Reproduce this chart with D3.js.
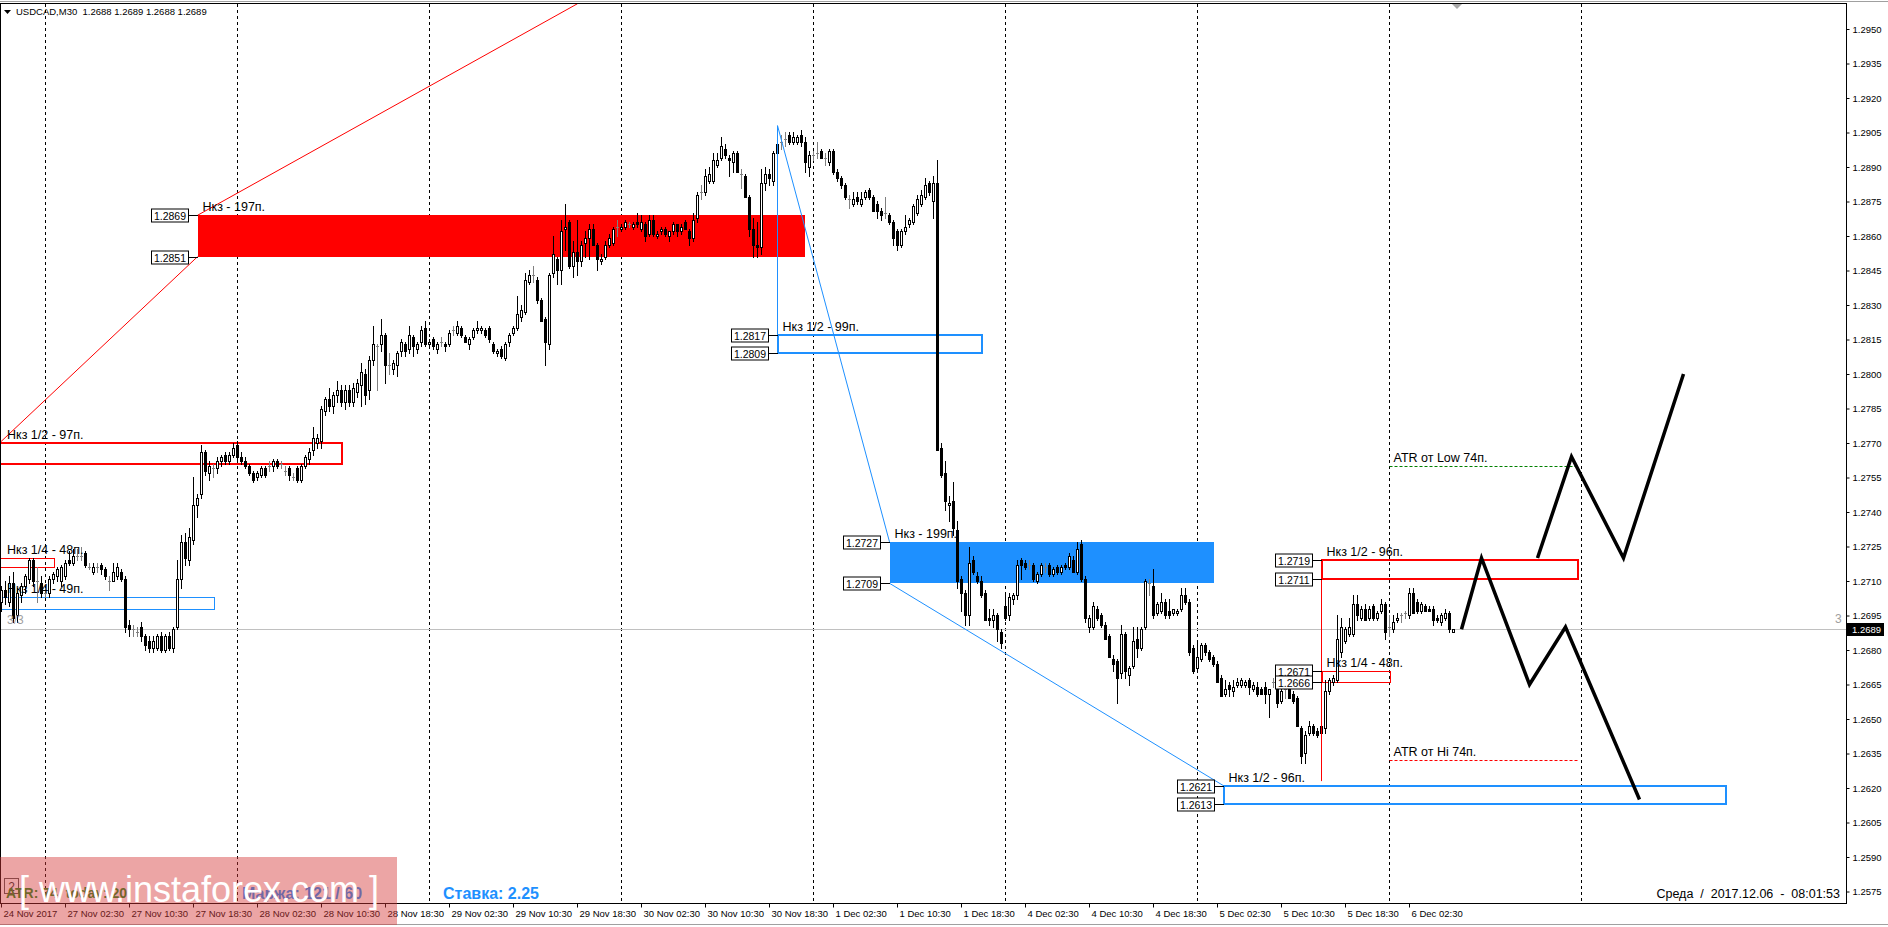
<!DOCTYPE html>
<html><head><meta charset="utf-8">
<script src="https://cdn.jsdelivr.net/npm/d3@7"></script>
<style>
body{margin:0;background:#fff;overflow:hidden}
svg{display:block}
text{font-family:"Liberation Sans",Arial,sans-serif}
</style>
</head><body>
<svg id="c" width="1888" height="927"></svg>
<script>
// ---------- DATA (USDCAD M30, [open, high, low, close]) ----------
const firstBarIndex = -11; // 24 Nov 18:30 ; bar 0 = 27 Nov 00:00
const nov24 = [[1.2701,1.2708,1.2697,1.2706],[1.2706,1.2710,1.2700,1.2703],[1.2701,1.2712,1.2699,1.2709],[1.2709,1.2714,1.2692,1.2694],[1.2695,1.2707,1.2692,1.2705],[1.2704,1.2709,1.2701,1.2708],[1.2708,1.2713,1.2705,1.2712],[1.2711,1.2720,1.2709,1.2719],[1.2719,1.2720,1.2708,1.2710],[1.2710,1.2716,1.2701,1.2710],[1.2709,1.2712,1.2703,1.2705]];
const nov27 = [[1.2705,1.2707,1.2703,1.2705],[1.2705,1.2712,1.2703,1.2711],[1.2711,1.2714,1.2709,1.2713],[1.2712,1.2716,1.2710,1.2715],[1.2710,1.2717,1.2708,1.2716],[1.2712,1.2719,1.2711,1.2718],[1.2719,1.2723,1.2717,1.2718],[1.2718,1.2724,1.2717,1.2721],[1.2721,1.2724,1.2719,1.2721],[1.2721,1.2725,1.2719,1.2721],[1.2722,1.2723,1.2716,1.2717],[1.2716,1.2718,1.2715,1.2716],[1.2714,1.2718,1.2713,1.2716],[1.2716,1.2718,1.2714,1.2716],[1.2717,1.2718,1.2713,1.2715],[1.2715,1.2716,1.2711,1.2712],[1.2710,1.2712,1.2706,1.2710],[1.2710,1.2718,1.2710,1.2714],[1.2712,1.2718,1.2711,1.2716],[1.2714,1.2715,1.2710,1.2711],[1.2711,1.2712,1.2688,1.2690],[1.2691,1.2693,1.2686,1.2689],[1.2689,1.2691,1.2686,1.2689],[1.2688,1.2690,1.2686,1.2688],[1.2690,1.2692,1.2684,1.2686],[1.2686,1.2687,1.2680,1.2682],[1.2684,1.2686,1.2679,1.2681],[1.2681,1.2686,1.2679,1.2684],[1.2681,1.2687,1.2680,1.2686],[1.2686,1.2688,1.2679,1.2680],[1.2680,1.2687,1.2679,1.2686],[1.2686,1.2688,1.2680,1.2681],[1.2681,1.2690,1.2679,1.2689],[1.2690,1.2719,1.2689,1.2711],[1.2711,1.2730,1.2707,1.2727],[1.2727,1.2731,1.2717,1.2720],[1.2719,1.2733,1.2717,1.2729],[1.2728,1.2755,1.2726,1.2743],[1.2743,1.2748,1.2738,1.2746],[1.2748,1.2769,1.2746,1.2766],[1.2766,1.2767,1.2756,1.2758],[1.2757,1.2762,1.2754,1.2760],[1.2759,1.2761,1.2755,1.2759],[1.2759,1.2764,1.2757,1.2762],[1.2762,1.2765,1.2760,1.2764],[1.2765,1.2766,1.2761,1.2762],[1.2762,1.2766,1.2761,1.2765],[1.2765,1.2770,1.2764,1.2768]];
const nov28 = [[1.2769,1.2771,1.2763,1.2764],[1.2764,1.2766,1.2761,1.2762],[1.2762,1.2764,1.2759,1.2760],[1.2760,1.2761,1.2756,1.2757],[1.2757,1.2758,1.2753,1.2754],[1.2755,1.2758,1.2754,1.2757],[1.2756,1.2760,1.2755,1.2759],[1.2759,1.2760,1.2755,1.2756],[1.2760,1.2762,1.2758,1.2760],[1.2760,1.2763,1.2758,1.2762],[1.2762,1.2763,1.2759,1.2760],[1.2761,1.2762,1.2759,1.2761],[1.2758,1.2760,1.2756,1.2758],[1.2759,1.2760,1.2754,1.2756],[1.2755,1.2757,1.2754,1.2755],[1.2759,1.2760,1.2753,1.2754],[1.2754,1.2761,1.2753,1.2760],[1.2760,1.2765,1.2759,1.2764],[1.2763,1.2768,1.2761,1.2766],[1.2767,1.2777,1.2765,1.2772],[1.2770,1.2774,1.2768,1.2772],[1.2771,1.2786,1.2768,1.2785],[1.2784,1.2790,1.2782,1.2789],[1.2789,1.2794,1.2784,1.2786],[1.2786,1.2792,1.2783,1.2791],[1.2791,1.2797,1.2788,1.2793],[1.2793,1.2795,1.2786,1.2788],[1.2788,1.2795,1.2785,1.2793],[1.2793,1.2795,1.2786,1.2788],[1.2788,1.2796,1.2786,1.2794],[1.2792,1.2798,1.2790,1.2796],[1.2795,1.2805,1.2786,1.2801],[1.2800,1.2802,1.2787,1.2791],[1.2793,1.2808,1.2789,1.2806],[1.2806,1.2821,1.2804,1.2813],[1.2812,1.2813,1.2793,1.2812],[1.2813,1.2824,1.2810,1.2817],[1.2817,1.2818,1.2796,1.2804],[1.2804,1.2809,1.2800,1.2804],[1.2802,1.2806,1.2800,1.2805],[1.2804,1.2810,1.2799,1.2809],[1.2810,1.2815,1.2808,1.2814],[1.2813,1.2814,1.2808,1.2810],[1.2811,1.2821,1.2809,1.2817],[1.2816,1.2817,1.2808,1.2812],[1.2811,1.2814,1.2809,1.2813],[1.2814,1.2821,1.2812,1.2819],[1.2820,1.2823,1.2812,1.2813]];
const nov29 = [[1.2813,1.2815,1.2812,1.2814],[1.2815,1.2816,1.2811,1.2812],[1.2811,1.2814,1.2809,1.2813],[1.2814,1.2816,1.2812,1.2814],[1.2813,1.2814,1.2810,1.2812],[1.2813,1.2819,1.2812,1.2818],[1.2819,1.2821,1.2817,1.2819],[1.2818,1.2823,1.2817,1.2821],[1.2820,1.2821,1.2816,1.2817],[1.2816,1.2817,1.2814,1.2814],[1.2813,1.2816,1.2811,1.2815],[1.2816,1.2820,1.2815,1.2819],[1.2819,1.2823,1.2818,1.2820],[1.2819,1.2821,1.2818,1.2820],[1.2819,1.2820,1.2816,1.2817],[1.2820,1.2821,1.2814,1.2815],[1.2813,1.2814,1.2809,1.2810],[1.2809,1.2811,1.2808,1.2810],[1.2811,1.2812,1.2807,1.2808],[1.2807,1.2814,1.2806,1.2813],[1.2814,1.2818,1.2812,1.2817],[1.2818,1.2821,1.2817,1.2820],[1.2820,1.2834,1.2819,1.2826],[1.2825,1.2830,1.2823,1.2828],[1.2827,1.2844,1.2826,1.2841],[1.2840,1.2845,1.2839,1.2843],[1.2843,1.2847,1.2840,1.2843],[1.2841,1.2842,1.2831,1.2832],[1.2832,1.2833,1.2823,1.2823],[1.2824,1.2825,1.2804,1.2814],[1.2813,1.2844,1.2811,1.2843],[1.2844,1.2860,1.2842,1.2852],[1.2850,1.2851,1.2839,1.2845],[1.2845,1.2867,1.2839,1.2862],[1.2863,1.2874,1.2854,1.2864],[1.2866,1.2867,1.2846,1.2847],[1.2847,1.2858,1.2842,1.2853],[1.2853,1.2867,1.2843,1.2849],[1.2849,1.2858,1.2847,1.2856],[1.2857,1.2862,1.2851,1.2859],[1.2859,1.2865,1.2850,1.2863],[1.2863,1.2865,1.2856,1.2856],[1.2856,1.2857,1.2845,1.2850],[1.2849,1.2852,1.2848,1.2850],[1.2851,1.2858,1.2850,1.2856],[1.2856,1.2861,1.2855,1.2859],[1.2857,1.2864,1.2856,1.2863],[1.2864,1.2867,1.2860,1.2864]];
const nov30 = [[1.2863,1.2865,1.2862,1.2864],[1.2864,1.2867,1.2863,1.2866],[1.2865,1.2866,1.2864,1.2865],[1.2864,1.2866,1.2863,1.2865],[1.2866,1.2870,1.2864,1.2865],[1.2863,1.2869,1.2862,1.2866],[1.2865,1.2866,1.2858,1.2860],[1.2861,1.2869,1.2860,1.2867],[1.2867,1.2869,1.2860,1.2861],[1.2860,1.2862,1.2859,1.2861],[1.2862,1.2864,1.2861,1.2863],[1.2863,1.2864,1.2860,1.2861],[1.2860,1.2862,1.2858,1.2862],[1.2862,1.2866,1.2861,1.2865],[1.2865,1.2865,1.2860,1.2862],[1.2862,1.2865,1.2861,1.2864],[1.2866,1.2867,1.2863,1.2863],[1.2862,1.2863,1.2856,1.2859],[1.2859,1.2870,1.2858,1.2867],[1.2868,1.2879,1.2866,1.2878],[1.2879,1.2882,1.2876,1.2879],[1.2879,1.2889,1.2878,1.2886],[1.2884,1.2890,1.2883,1.2887],[1.2884,1.2896,1.2883,1.2893],[1.2891,1.2896,1.2890,1.2893],[1.2894,1.2903,1.2893,1.2899],[1.2898,1.2900,1.2894,1.2895],[1.2894,1.2895,1.2886,1.2893],[1.2892,1.2897,1.2888,1.2896],[1.2896,1.2897,1.2888,1.2888],[1.2887,1.2889,1.2881,1.2887],[1.2886,1.2887,1.2877,1.2877],[1.2877,1.2878,1.2860,1.2863],[1.2863,1.2868,1.2851,1.2856],[1.2856,1.2866,1.2851,1.2855],[1.2855,1.2889,1.2852,1.2883],[1.2883,1.2890,1.2880,1.2887],[1.2887,1.2889,1.2882,1.2885],[1.2884,1.2897,1.2882,1.2896],[1.2896,1.2908,1.2894,1.2900],[1.2901,1.2904,1.2898,1.2901],[1.2902,1.2905,1.2899,1.2902],[1.2904,1.2905,1.2900,1.2901],[1.2901,1.2905,1.2900,1.2903],[1.2901,1.2904,1.2900,1.2903],[1.2904,1.2906,1.2899,1.2901],[1.2901,1.2903,1.2888,1.2892],[1.2890,1.2897,1.2886,1.2895]];
const dec1 = [[1.2895,1.2897,1.2893,1.2895],[1.2896,1.2901,1.2894,1.2896],[1.2897,1.2898,1.2894,1.2894],[1.2894,1.2896,1.2891,1.2894],[1.2892,1.2898,1.2891,1.2897],[1.2897,1.2898,1.2887,1.2888],[1.2888,1.2889,1.2884,1.2885],[1.2885,1.2886,1.2881,1.2882],[1.2882,1.2883,1.2876,1.2877],[1.2876,1.2878,1.2872,1.2876],[1.2874,1.2879,1.2873,1.2876],[1.2877,1.2879,1.2874,1.2875],[1.2874,1.2879,1.2873,1.2876],[1.2877,1.2880,1.2876,1.2879],[1.2880,1.2881,1.2876,1.2877],[1.2877,1.2878,1.2871,1.2871],[1.2874,1.2875,1.2868,1.2871],[1.2871,1.2872,1.2867,1.2869],[1.2870,1.2877,1.2868,1.2870],[1.2869,1.2870,1.2865,1.2866],[1.2866,1.2867,1.2856,1.2859],[1.2862,1.2863,1.2854,1.2856],[1.2856,1.2863,1.2855,1.2862],[1.2862,1.2869,1.2861,1.2864],[1.2865,1.2868,1.2864,1.2867],[1.2866,1.2874,1.2865,1.2873],[1.2870,1.2878,1.2869,1.2876],[1.2874,1.2880,1.2873,1.2878],[1.2877,1.2885,1.2876,1.2882],[1.2883,1.2884,1.2878,1.2879],[1.2875,1.2886,1.2868,1.2883],[1.2883,1.2893,1.2767,1.2767],[1.2768,1.2770,1.2755,1.2756],[1.2757,1.2762,1.2741,1.2745],[1.2743,1.2747,1.2736,1.2744],[1.2745,1.2753,1.2730,1.2733],[1.2732,1.2736,1.2707,1.2710],[1.2711,1.2712,1.2697,1.2705],[1.2705,1.2706,1.2691,1.2695],[1.2695,1.2725,1.2691,1.2718],[1.2719,1.2721,1.2713,1.2714],[1.2712,1.2714,1.2709,1.2710],[1.2710,1.2712,1.2703,1.2704],[1.2705,1.2706,1.2693,1.2693],[1.2694,1.2698,1.2691,1.2693],[1.2693,1.2698,1.2690,1.2695],[1.2695,1.2696,1.2684,1.2689],[1.2688,1.2689,1.2681,1.2683]];
const dec4 = [[1.2699,1.2704,1.2693,1.2694],[1.2695,1.2705,1.2693,1.2703],[1.2702,1.2705,1.2700,1.2704],[1.2704,1.2719,1.2702,1.2717],[1.2719,1.2720,1.2711,1.2717],[1.2718,1.2719,1.2715,1.2716],[1.2717,1.2719,1.2715,1.2717],[1.2717,1.2718,1.2710,1.2711],[1.2710,1.2714,1.2709,1.2713],[1.2713,1.2718,1.2712,1.2717],[1.2716,1.2718,1.2714,1.2716],[1.2717,1.2718,1.2712,1.2713],[1.2713,1.2716,1.2712,1.2715],[1.2716,1.2717,1.2713,1.2714],[1.2714,1.2717,1.2713,1.2716],[1.2717,1.2718,1.2715,1.2716],[1.2716,1.2722,1.2715,1.2721],[1.2719,1.2721,1.2714,1.2714],[1.2714,1.2727,1.2713,1.2724],[1.2726,1.2728,1.2710,1.2711],[1.2711,1.2712,1.2692,1.2694],[1.2690,1.2695,1.2688,1.2694],[1.2690,1.2701,1.2689,1.2699],[1.2698,1.2699,1.2693,1.2694],[1.2695,1.2696,1.2690,1.2691],[1.2691,1.2692,1.2685,1.2685],[1.2686,1.2687,1.2677,1.2677],[1.2676,1.2678,1.2671,1.2674],[1.2675,1.2676,1.2657,1.2668],[1.2670,1.2691,1.2668,1.2687],[1.2687,1.2688,1.2668,1.2671],[1.2669,1.2673,1.2665,1.2672],[1.2673,1.2690,1.2672,1.2684],[1.2685,1.2690,1.2677,1.2681],[1.2681,1.2690,1.2680,1.2689],[1.2690,1.2711,1.2689,1.2710],[1.2709,1.2711,1.2704,1.2709],[1.2708,1.2715,1.2694,1.2695],[1.2696,1.2701,1.2695,1.2700],[1.2697,1.2705,1.2696,1.2701],[1.2701,1.2702,1.2694,1.2695],[1.2697,1.2702,1.2694,1.2695],[1.2696,1.2698,1.2695,1.2698],[1.2696,1.2698,1.2695,1.2697],[1.2698,1.2707,1.2697,1.2704],[1.2704,1.2707,1.2700,1.2701],[1.2701,1.2702,1.2678,1.2679],[1.2681,1.2682,1.2670,1.2671]];
const dec5 = [[1.2672,1.2683,1.2671,1.2677],[1.2676,1.2683,1.2675,1.2682],[1.2682,1.2683,1.2678,1.2679],[1.2679,1.2680,1.2675,1.2676],[1.2677,1.2678,1.2673,1.2674],[1.2674,1.2675,1.2666,1.2666],[1.2668,1.2669,1.2660,1.2660],[1.2661,1.2667,1.2660,1.2663],[1.2665,1.2666,1.2660,1.2663],[1.2662,1.2667,1.2660,1.2664],[1.2665,1.2668,1.2664,1.2666],[1.2665,1.2668,1.2664,1.2667],[1.2665,1.2667,1.2664,1.2666],[1.2667,1.2668,1.2661,1.2664],[1.2663,1.2666,1.2662,1.2665],[1.2664,1.2666,1.2660,1.2661],[1.2663,1.2664,1.2661,1.2661],[1.2664,1.2666,1.2657,1.2661],[1.2661,1.2663,1.2651,1.2663],[1.2666,1.2668,1.2664,1.2666],[1.2666,1.2667,1.2655,1.2657],[1.2658,1.2665,1.2657,1.2662],[1.2663,1.2665,1.2659,1.2663],[1.2663,1.2664,1.2659,1.2659],[1.2661,1.2662,1.2657,1.2658],[1.2659,1.2660,1.2647,1.2647],[1.2646,1.2647,1.2631,1.2634],[1.2635,1.2645,1.2631,1.2643],[1.2644,1.2649,1.2643,1.2647],[1.2647,1.2648,1.2643,1.2644],[1.2645,1.2646,1.2642,1.2643],[1.2647,1.2648,1.2644,1.2644],[1.2646,1.2667,1.2644,1.2662],[1.2662,1.2668,1.2661,1.2667],[1.2666,1.2669,1.2665,1.2668],[1.2667,1.2695,1.2666,1.2685],[1.2679,1.2694,1.2677,1.2690],[1.2684,1.2690,1.2683,1.2689],[1.2687,1.2694,1.2686,1.2690],[1.2687,1.2704,1.2686,1.2700],[1.2700,1.2704,1.2693,1.2695],[1.2694,1.2699,1.2693,1.2698],[1.2698,1.2700,1.2693,1.2693],[1.2694,1.2699,1.2693,1.2698],[1.2699,1.2700,1.2693,1.2694],[1.2694,1.2697,1.2693,1.2696],[1.2697,1.2702,1.2696,1.2700],[1.2700,1.2701,1.2685,1.2688]];
const dec6 = [[1.2690,1.2695,1.2686,1.2690],[1.2689,1.2695,1.2688,1.2692],[1.2693,1.2696,1.2692,1.2694],[1.2695,1.2696,1.2692,1.2695],[1.2696,1.2697,1.2694,1.2696],[1.2695,1.2707,1.2694,1.2705],[1.2705,1.2707,1.2696,1.2696],[1.2701,1.2702,1.2696,1.2697],[1.2697,1.2701,1.2696,1.2700],[1.2699,1.2700,1.2697,1.2697],[1.2698,1.2699,1.2697,1.2697],[1.2698,1.2699,1.2691,1.2693],[1.2694,1.2695,1.2692,1.2693],[1.2692,1.2696,1.2691,1.2695],[1.2694,1.2698,1.2693,1.2696],[1.2696,1.2697,1.2688,1.2689],[1.2688,1.2689,1.2688,1.2689]];

const priceTicks = [1.2575,1.2590,1.2605,1.2620,1.2635,1.2650,1.2665,1.2680,1.2695,1.2710,1.2725,1.2740,1.2755,1.2770,1.2785,1.2800,1.2815,1.2830,1.2845,1.2860,1.2875,1.2890,1.2905,1.2920,1.2935,1.2950];
const timeLabels = ["24 Nov 2017","27 Nov 02:30","27 Nov 10:30","27 Nov 18:30","28 Nov 02:30","28 Nov 10:30","28 Nov 18:30","29 Nov 02:30","29 Nov 10:30","29 Nov 18:30","30 Nov 02:30","30 Nov 10:30","30 Nov 18:30","1 Dec 02:30","1 Dec 10:30","1 Dec 18:30","4 Dec 02:30","4 Dec 10:30","4 Dec 18:30","5 Dec 02:30","5 Dec 10:30","5 Dec 18:30","6 Dec 02:30"];
const timeLabelBars = [-11,5,21,37,53,69,85,101,117,133,149,165,181,197,213,229,245,261,277,293,309,325,341];
const midnightBars = [0,48,96,144,192,240,288,336,384];
const lastPrice = 1.2689;

// zones: name, top, bottom, from bar, to bar, kind, side, tagged
const zones = [
  ["Нкз - 197п.",    1.2869,1.2851, 38, 190, "full","sell",true],
  ["Нкз 1/2 - 99п.", 1.2817,1.2809,183, 234, "half","buy", true],
  ["Нкз - 199п.",    1.2727,1.2709,211, 292, "full","buy", true],
  ["Нкз 1/2 - 96п.", 1.2719,1.2711,319, 383, "half","sell",true],
  ["Нкз 1/4 - 48п.", 1.2671,1.2666,319, 336, "quarter","sell",true],
  ["Нкз 1/2 - 96п.", 1.2621,1.2613,294.5,420,"half","buy", true],
  ["Нкз 1/2 - 97п.", 1.2770,1.2761,-20,  74, "half","sell",false],
  ["Нкз 1/4 - 48п.", 1.2720,1.2716,-20,   2, "quarter","sell",false],
  ["Нкз 1/4 - 49п.", 1.2703,1.2698,-20,  42, "quarter","buy",false]
];
// trend lines [bar1, price1, bar2, price2, side]
const trendLines = [
  [-11.5,1.2770, 38,1.2851,"sell"],
  [38,1.2869, 133,1.2961,"sell"],
  [183,1.2908, 183,1.2809,"buy"],
  [183,1.2908, 211,1.2727,"buy"],
  [211,1.2709, 294.5,1.2621,"buy"],
  [319,1.2719, 319,1.2623,"sell"]
];
const atrLevels = [["ATR от Low 74п.",1.2760,336,383,"low"],["ATR от Hi 74п.",1.2632,336,383,"hi"]];
const forecastA = [[354,1.2689],[359,1.2720],[371,1.2665],[380,1.2690],[398.5,1.2615]];
const forecastB = [[373,1.2720],[381.5,1.2764],[394.5,1.2720],[409.5,1.2800]];

// ---------- DRAW ----------
const W=1888,H=927,plotR=1846,plotB=903;
const candles=[].concat(nov24,nov27,nov28,nov29,nov30,dec1,dec4,dec5,dec6).map((d,i)=>({n:firstBarIndex+i,o:d[0],h:d[1],l:d[2],c:d[3]}));
const x=d3.scaleLinear().domain([0,100]).range([45.5,445.5]);
const y=d3.scaleLinear().domain([1.2575,1.2950]).range([891.5,29]);
const py=p=>Math.round(y(p));
const BLUE="#1E90FF",RED="#FF0000";
const sideCol=s=>s==="buy"?BLUE:RED;

const svg=d3.select("#c");
svg.append("rect").attr("width",W).attr("height",H).attr("fill","#fff");
svg.append("defs").append("clipPath").attr("id","plot").append("rect").attr("x",1).attr("y",4).attr("width",plotR-1).attr("height",plotB-4);
const g=svg.append("g").attr("clip-path","url(#plot)");

// midnight grid
g.selectAll("line.grid").data(midnightBars).join("line").attr("class","grid")
 .attr("x1",d=>x(d)).attr("x2",d=>x(d)).attr("y1",4).attr("y2",plotB)
 .attr("stroke","#000").attr("stroke-dasharray","3,3");

// last price line
g.append("line").attr("x1",0).attr("x2",plotR).attr("y1",py(lastPrice)+0.5).attr("y2",py(lastPrice)+0.5).attr("stroke","#c0c0c0");

// filled zones (background)
g.selectAll("rect.fz").data(zones.filter(z=>z[5]==="full")).join("rect").attr("class","fz")
 .attr("x",d=>Math.round(x(d[3]))).attr("width",d=>Math.round(x(d[4]))-Math.round(x(d[3])))
 .attr("y",d=>py(d[1])).attr("height",d=>py(d[2])-py(d[1])).attr("fill",d=>sideCol(d[6]));
// outlined zones
g.selectAll("rect.oz").data(zones.filter(z=>z[5]!=="full")).join("rect").attr("class","oz")
 .each(function(d){
   const sw=d[5]==="half"?2:1, off=sw===1?0.5:0;
   d3.select(this).attr("x",Math.round(x(d[3]))+off).attr("width",Math.round(x(d[4]))-Math.round(x(d[3])))
   .attr("y",py(d[1])+off).attr("height",py(d[2])-py(d[1]))
   .attr("fill","none").attr("stroke",sideCol(d[6])).attr("stroke-width",sw);
 });

// candles
const cg=g.append("g");
cg.selectAll("line.wick").data(candles).join("line").attr("class","wick")
 .attr("x1",d=>x(d.n)).attr("x2",d=>x(d.n)).attr("y1",d=>py(d.h)).attr("y2",d=>py(d.l)+1)
 .attr("stroke",d=>d.o===d.c?"#808080":"#000");
cg.selectAll("line.doji").data(candles.filter(d=>d.o===d.c)).join("line").attr("class","doji")
 .attr("x1",d=>x(d.n)-1.5).attr("x2",d=>x(d.n)+1.5).attr("y1",d=>py(d.o)+0.5).attr("y2",d=>py(d.o)+0.5).attr("stroke","#808080");
cg.selectAll("rect.body").data(candles.filter(d=>d.o!==d.c)).join("rect").attr("class","body")
 .attr("x",d=>x(d.n)-1).attr("width",2)
 .attr("y",d=>py(Math.max(d.o,d.c))+0.5).attr("height",d=>Math.max(py(Math.min(d.o,d.c))-py(Math.max(d.o,d.c)),1))
 .attr("fill",d=>d.c>d.o?"#fff":"#000").attr("stroke","#000");

// trend lines
g.selectAll("line.tl").data(trendLines).join("line").attr("class","tl")
 .attr("x1",d=>x(d[0])).attr("y1",d=>y(d[1])).attr("x2",d=>x(d[2])).attr("y2",d=>y(d[3]))
 .attr("stroke",d=>sideCol(d[4])).attr("stroke-width",1);

// ATR levels
g.selectAll("line.atr").data(atrLevels).join("line").attr("class","atr")
 .attr("x1",d=>x(d[2])).attr("x2",d=>x(d[3])).attr("y1",d=>py(d[1])+0.5).attr("y2",d=>py(d[1])+0.5)
 .attr("stroke",d=>d[4]==="low"?"#008000":RED).attr("stroke-dasharray","3,2");
g.selectAll("text.atr").data(atrLevels).join("text").attr("class","atr")
 .attr("x",d=>x(d[2])+4).attr("y",d=>py(d[1])-4).attr("font-size","12.5px").text(d=>d[0]);

// zone captions
g.selectAll("text.zl").data(zones).join("text").attr("class","zl")
 .attr("x",d=>Math.max(x(d[3]),0)+(d[3]<0?7:5)).attr("y",d=>py(d[1])-4.5).attr("font-size","12.5px").text(d=>d[0]);

// forecast paths
const line=d3.line().x(d=>x(d[0])).y(d=>y(d[1]));
[forecastA,forecastB].forEach(p=>g.append("path").attr("d",line(p)).attr("fill","none").attr("stroke","#000").attr("stroke-width",3.5).attr("stroke-linejoin","miter"));

// price tags on zones
const tags=[];
zones.filter(z=>z[7]).forEach(z=>{tags.push({p:z[1],b:z[3]});tags.push({p:z[2],b:z[3]});});
const tg=g.selectAll("g.tag").data(tags).join("g").attr("class","tag");
tg.append("line").attr("x1",d=>Math.round(x(d.b))-9).attr("x2",d=>Math.round(x(d.b))).attr("y1",d=>py(d.p)+0.5).attr("y2",d=>py(d.p)+0.5).attr("stroke","#000");
tg.append("rect").attr("x",d=>Math.round(x(d.b))-46.5).attr("y",d=>py(d.p)-6).attr("width",37).attr("height",13).attr("fill","#fff").attr("stroke","#000");
tg.append("text").attr("x",d=>Math.round(x(d.b))-28).attr("y",d=>py(d.p)+4.5).attr("text-anchor","middle").attr("font-size","10.5px").text(d=>d3.format(".4f")(d.p));

// small texts
g.append("text").attr("x",7).attr("y",624).attr("font-size","12px").attr("fill","#a0a0a0").text("3/3");
g.append("text").attr("x",1835).attr("y",623).attr("font-size","12px").attr("fill","#a0a0a0").text("3");
g.append("text").attr("x",1840).attr("y",898).attr("text-anchor","end").attr("font-size","12.5px").style("white-space","pre").text("Среда  /  2017.12.06  -  08:01:53");

// header
svg.append("path").attr("d","M4,10 L11,10 L7.5,14 Z").attr("fill","#000");
svg.append("text").attr("x",16).attr("y",15).attr("font-size","9.5px").style("white-space","pre").text("USDCAD,M30  1.2688 1.2689 1.2688 1.2689");
svg.append("path").attr("d","M1452,4 L1462,4 L1457,9 Z").attr("fill","#a8a8a8");

// frame
svg.append("line").attr("x1",0).attr("x2",W).attr("y1",1.5).attr("y2",1.5).attr("stroke","#a0a0a0");
svg.append("rect").attr("x",0.5).attr("y",3.5).attr("width",plotR).attr("height",plotB-3).attr("fill","none").attr("stroke","#000");
svg.append("line").attr("x1",0).attr("x2",W).attr("y1",924.5).attr("y2",924.5).attr("stroke","#a0a0a0");

// right price axis
const ay=svg.append("g").attr("transform",`translate(${plotR+0.5},0)`)
 .call(d3.axisRight(y).tickValues(priceTicks).tickSize(3).tickFormat(d3.format(".4f")));
ay.select(".domain").remove();
ay.selectAll("text").attr("x",6).attr("font-size","9.5px").attr("font-family","Liberation Sans, Arial, sans-serif").attr("fill","#000");
// last price tag
svg.append("rect").attr("x",1847).attr("y",py(lastPrice)-6).attr("width",37).attr("height",13).attr("fill","#000");
svg.append("text").attr("x",1852).attr("y",py(lastPrice)+4).attr("font-size","9.5px").attr("fill","#fff").text(d3.format(".4f")(lastPrice));

// time axis
const xa=svg.append("g").attr("transform",`translate(0,${plotB+0.5})`)
 .call(d3.axisBottom(x.copy().range([45,445])).tickValues(timeLabelBars).tickSize(4).tickFormat((d,i)=>timeLabels[i]));
xa.select(".domain").remove();
xa.selectAll("text").attr("text-anchor","start").attr("x",2).attr("y",6).attr("dy","0.75em").attr("font-size","9.5px").attr("font-family","Liberation Sans, Arial, sans-serif").attr("fill","#000");

// bottom info texts + watermark
svg.append("rect").attr("x",4.5).attr("y",878.5).attr("width",14).attr("height",15).attr("fill","none").attr("stroke","#555");
svg.append("text").attr("x",11.5).attr("y",891).attr("text-anchor","middle").attr("font-size","12px").attr("fill","#333").text("2");
svg.append("text").attr("x",6).attr("y",898).attr("font-size","14px").attr("font-weight","bold").attr("fill","#228B22").text("ATR: 74  today: 20").style("white-space","pre");
svg.append("text").attr("x",242).attr("y",899).attr("font-size","16px").attr("font-weight","bold").attr("fill",BLUE).text("Маржа: 121 / 60");
svg.append("text").attr("x",443).attr("y",899).attr("font-size","16px").attr("font-weight","bold").attr("fill",BLUE).text("Ставка: 2.25");
svg.append("rect").attr("x",0).attr("y",857).attr("width",397).attr("height",68).attr("fill","rgb(213,55,55)").attr("fill-opacity",0.45);
svg.append("text").attr("x",19).attr("y",902).attr("font-size","36px").attr("fill","#fff").style("white-space","pre").text("[ www.instaforex.com ]");
</script>
</body></html>
